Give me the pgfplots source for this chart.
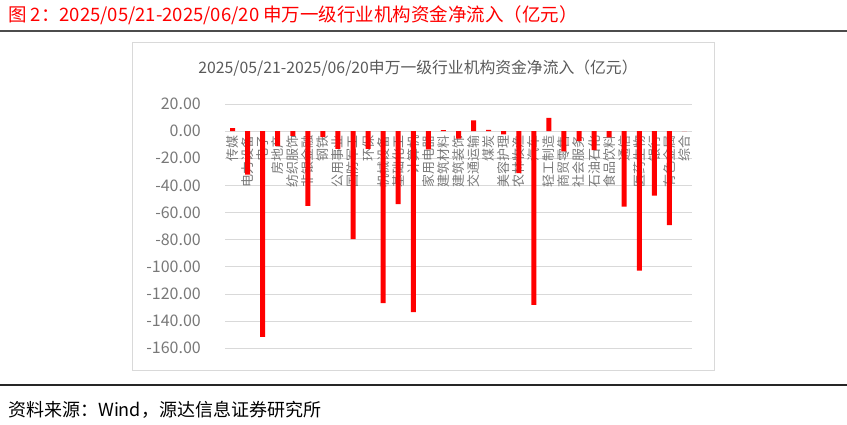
\documentclass[border=0pt]{standalone}
\usepackage{fontspec}
\setmainfont{Noto Sans CJK SC}
\usepackage{pgfplots}
\pgfplotsset{compat=1.18}
\definecolor{barred}{RGB}{255,0,0}
\definecolor{gridgray}{RGB}{217,217,217}
\definecolor{labgray}{RGB}{120,120,120}
\definecolor{ttlgray}{RGB}{89,89,89}
\begin{document}
\begin{tikzpicture}
\path[use as bounding box] (0,0) rectangle (847pt,425pt);
% header / footer rules
\draw[line width=1.5pt, black!70] (0,394pt) -- (847pt,394pt);
\draw[line width=1.5pt, black!85] (0,40pt) -- (847pt,40pt);
\node[anchor=west, text=red, inner sep=0pt, font=\fontsize{18.5}{20}\selectfont] at (8pt,410pt)
  {图 2：2025/05/21-2025/06/20 申万一级行业机构资金净流入（亿元）};
\node[anchor=west, inner sep=0pt, font=\fontsize{18}{20}\selectfont] at (8pt,15pt)
  {资料来源：Wind，源达信息证券研究所};
% chart frame
\draw[gridgray, line width=0.8pt] (132pt,55pt) rectangle (714pt,382.3pt);
\node[text=ttlgray, font=\fontsize{15.8}{18}\selectfont] at (418pt,357pt)
  {2025/05/21-2025/06/20申万一级行业机构资金净流入（亿元）};

\begin{axis}[
  at={(225pt,76.7pt)}, anchor=south west,
  width=467pt, height=244.3pt, scale only axis,
  xmin=-0.5, xmax=30.5,
  ymin=-160, ymax=20,
  axis x line=middle, axis y line=left,
  axis line style={draw=none},
  hide obscured x ticks=false, hide obscured y ticks=false,
  major tick length=0pt,
  ytick={-160,-140,...,20},
  ymajorgrids,
  grid style={gridgray, line width=0.8pt},
  scaled y ticks=false,
  yticklabel style={text=labgray, font=\fontsize{16}{16}\selectfont,
    anchor=east, inner sep=0pt, xshift=-24pt,
    /pgf/number format/.cd, fixed, fixed zerofill, precision=2, assume math mode=true},
  xtick={0,...,30},
  xticklabels={传媒,电力设备,电子,房地产,纺织服饰,非银金融,钢铁,公用事业,国防军工,环保,
    机械设备,基础化工,计算机,家用电器,建筑材料,建筑装饰,交通运输,煤炭,美容护理,农林牧渔,
    汽车,轻工制造,商贸零售,社会服务,石油石化,食品饮料,通信,医药生物,银行,有色金属,综合},
  xticklabel style={text=labgray, font=\fontsize{13}{13}\selectfont,
    rotate=90, anchor=east, inner xsep=4pt, inner ysep=0pt},
]
\addplot[ybar, bar width=5pt, fill=barred, draw=none] coordinates {
  (0,2.2) (1,-32) (2,-151.5) (3,-11) (4,-3.4) (5,-55) (6,-4.5) (7,-13)
  (8,-79.5) (9,-13) (10,-126.8) (11,-53.8) (12,-133.4) (13,-13.5) (14,0.7)
  (15,-5.6) (16,7.9) (17,1.0) (18,-2.3) (19,-31) (20,-128) (21,9.7)
  (22,-15) (23,-7.3) (24,-14) (25,-4.6) (26,-55.7) (27,-102.8) (28,-47.6)
  (29,-69.3) (30,0)
};
\end{axis}
\end{tikzpicture}
\end{document}
